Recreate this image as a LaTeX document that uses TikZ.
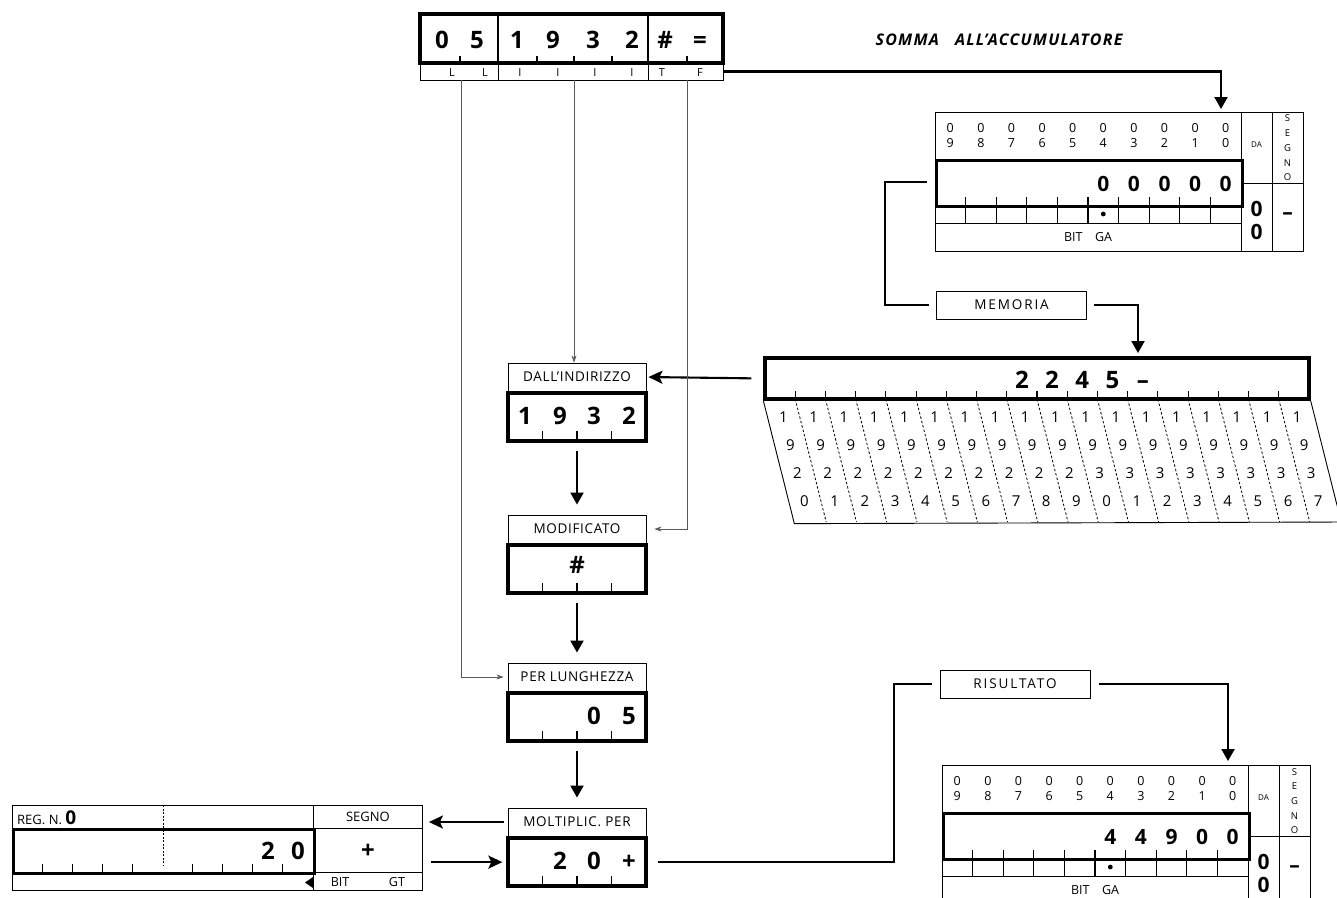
\documentclass[tikz,border=0pt]{standalone}
\usepackage{fontspec}
\setmainfont{Open Sans}
\usetikzlibrary{arrows.meta,positioning}

\begin{document}
\begin{tikzpicture}[
        x=1pt, y=-1pt,
        sottile/.style={line width=0.9pt},
        spessa/.style={line width=3.3pt},
        tacca/.style={line width=1.1pt},
        linea/.style={line width=2.1pt},
        filo/.style={line width=0.7pt, black!65, -{Stealth[length=7pt,width=5pt]}},
        freccia/.style={linea, -{Triangle[length=12pt,width=13pt]}},
        frecciah/.style={linea, -{Stealth[length=14pt,width=13pt,inset=3pt]}},
        etich/.style={draw, sottile, inner sep=0pt, minimum width=138pt, minimum height=28pt,
                      font=\fontsize{13.5}{15}\selectfont\addfontfeature{LetterSpace=5}},
        valore/.style={draw, spessa, inner sep=0pt, minimum width=138pt, minimum height=48pt},
        nome/.style={draw, line width=1pt, inner sep=0pt, minimum width=150pt, minimum height=28pt,
                     font=\fontsize{13.5}{15}\selectfont\addfontfeature{LetterSpace=14}},
        cifra/.style={font=\bfseries\fontsize{24}{26}\selectfont, inner sep=0pt,
                      text height=17pt, text depth=0pt},
        cifraacc/.style={font=\bfseries\fontsize{21}{23}\selectfont, inner sep=0pt,
                         text height=15pt, text depth=0pt},
        piccola/.style={font=\fontsize{12.5}{14}\selectfont, inner sep=0pt,
                        text height=9pt, text depth=0pt},
        memcifra/.style={font=\fontsize{15}{16}\selectfont, inner sep=0pt,
                         text height=10.7pt, text depth=0pt}]

    \useasboundingbox (0,0) rectangle (1337,897);
    \clip (0,0) rectangle (1337,897);

    % --- Istruzione
    \draw[spessa] (420,14) rectangle (723,63);
    \draw[line width=1.5pt] (498,14) -- (498,63) (648,14) -- (648,63);
    \node[draw, sottile, minimum width=303pt, minimum height=17pt, inner sep=0pt] (istr) at (571.5,71.5) {};
    \draw[sottile] (498,63) -- (498,80) (648,63) -- (648,80);
    \foreach \x/\c [count=\i] in {442/0,477/5,517/1,553/9,593/3,632/2,665/\#,700/=}
        \node[cifra] (istr-c\i) at (\x,40) {\c};
    \foreach \x in {460,537,574,612,687}
        \draw[tacca] (\x,63) -- (\x,56);
    \foreach \x/\l [count=\i] in {452/L,485/L,520/I,558/I,595/I,632/I,662/T,700/F}
        \node[piccola, font=\fontsize{11}{13}\selectfont] (istr-l\i) at (\x,72) {\l};
    \coordinate (fL) at (461,80);
    \coordinate (fI) at (574,80);
    \coordinate (fT) at (687,80);

    \node[font=\bfseries\itshape\fontsize{16}{18}\selectfont\addfontfeature{LetterSpace=8}] (somma)
        at (999,40) {SOMMA\quad ALL'ACCUMULATORE};

    % --- Accumulatori (sopra: prima, sotto: risultato)
    \foreach \ox/\oy/\nm/\da/\db/\dc/\dd/\de in {935/112/accA/0/0/0/0/0, 942/765/accB/4/4/9/0/0} {
    \begin{scope}[shift={(\ox,\oy)}]
        \draw[sottile] (0,0) rectangle (368,139);
        \draw[sottile] (306,0) -- (306,139) (337,0) -- (337,139) (306,71) -- (368,71);
        \node[draw, spessa, minimum width=306pt, minimum height=46pt, inner sep=0pt,
              anchor=north west] (\nm) at (0,47) {};
        \draw[sottile] (0,111) -- (306,111);
        \foreach \k in {1,...,9}
            \draw[tacca] (30.6*\k,85) -- (30.6*\k,111);
        \foreach \k [evaluate=\k as \n using int(9-\k)] in {0,...,9} {
            \node[piccola] (\nm-a\k) at (15.3+30.6*\k,16) {0};
            \node[piccola] (\nm-b\k) at (15.3+30.6*\k,31) {\n};
        }
        \foreach \d [count=\c from 5] in {\da,\db,\dc,\dd,\de}
            \node[cifraacc] (\nm-v\c) at (15.3+30.6*\c,72) {\d};
        \fill (168.3,102) circle (2.4pt);
        \node[piccola] (\nm-bit) at (153,125) {BIT\quad GA};
        \node[font=\fontsize{8}{9}\selectfont, inner sep=0pt] (\nm-da) at (321.5,33) {DA};
        \node[font=\fontsize{9.5}{14.7}\selectfont, align=center, inner sep=0pt] (\nm-sg)
            at (352.5,36) {S\\E\\G\\N\\O};
        \node[cifraacc] (\nm-d1) at (321.5,97) {0};
        \node[cifraacc] (\nm-d2) at (321.5,120) {0};
        \node[cifraacc] (\nm-s) at (352.5,100) {--};
        \coordinate (\nm-in) at (286,0);
        \coordinate (\nm-w) at (-8,70);
    \end{scope}
    }

    \draw[freccia, shorten >=3pt] (istr.east) -| (accA-in);

    % --- Memoria
    \node[nome] (memoria) at (1011.5,305) {MEMORIA};
    \draw[linea, shorten >=7pt] (accA-w) -- ++(-42,0) |- (memoria.west);
    \node[draw, spessa, minimum width=544pt, minimum height=41pt, inner sep=0pt] (mem) at (1037,378.5) {};
    \coordinate (mem-in) at (1138,358);
    \draw[freccia, shorten <=7pt, shorten >=5pt] (memoria.east) -| (mem-in);
    \draw[sottile] (mem.south west) -- ++(31,123) -- (1345,522);
    \draw[sottile] (mem.south east) -- ++(31,123);
    \foreach \k in {1,...,17} {
        \draw[tacca] (765+30.22*\k,399) -- ++(0,-8);
        \draw[line width=0.8pt, dash pattern=on 2.5pt off 2pt] (765+30.22*\k,399) -- ++(31,123);
    }
    \foreach \k in {0,...,17} {
        \pgfmathtruncatemacro\unita{mod(\k,10)}
        \pgfmathtruncatemacro\decina{\k<10 ? 2 : 3}
        \foreach \r/\y/\d in {1/417/1, 2/445/9, 3/473/\decina, 4/501/\unita}
            \node[memcifra] (mem-\k-\r) at (765+30.22*\k+14+0.25*\y-99.75,\y) {\d};
    }
    \foreach \k/\d in {8/2,9/2,10/4,11/5,12/--}
        \node[cifra] (mem-v\k) at (765+30.22*\k+15.1,380) {\d};

    % --- Registri centrali
    \foreach \nm/\yc/\testo in {ind/377/{DALL'INDIRIZZO}, mod/529/MODIFICATO,
                                lun/677/{PER LUNGHEZZA}, mol/822/{MOLTIPLIC.\ PER}} {
        \node[etich] (\nm) at (577,\yc) {\testo};
        \node[valore, below=0pt of \nm] (\nm-v) {};
        \foreach \x in {542.5,577,611.5}
            \draw[tacca] (\x,\yc+62) -- ++(0,-8);
    }
    \foreach \x/\c [count=\i] in {525/1,560/9,594/3,629/2}
        \node[cifra] (ind-c\i) at (\x,416) {\c};
    \node[cifra] (mod-c1) at (577,565) {\#};
    \foreach \x/\c [count=\i] in {594/0,629/5}
        \node[cifra] (lun-c\i) at (\x,716) {\c};
    \foreach \x/\c [count=\i] in {560/2,594/0,629/+}
        \node[cifra] (mol-c\i) at (\x,861) {\c};

    \draw[frecciah, shorten <=12pt, shorten >=2pt] (mem.west) -- (ind.east);
    \draw[freccia, shorten <=8pt, shorten >=10pt] (ind-v) -- (mod);
    \draw[freccia, shorten <=8pt, shorten >=10pt] (mod-v) -- (lun);
    \draw[freccia, shorten <=8pt, shorten >=10pt] (lun-v) -- (mol);

    % --- Fili dall'istruzione
    \draw[filo] (fI) -- (fI |- ind.north);
    \draw[filo, shorten >=8pt] (fT) |- (mod.east);
    \draw[filo, shorten >=4pt] (fL) |- (lun.west);

    % --- Registro 0
    \draw[sottile] (12,805) rectangle (313,890);
    \node[draw, sottile, minimum width=109pt, minimum height=23pt, inner sep=0pt, anchor=north west,
          piccola, font=\fontsize{13}{14}\selectfont] (regS) at (313,805) {SEGNO};
    \node[draw, sottile, minimum width=109pt, minimum height=44pt, inner sep=0pt, anchor=north west,
          cifra] (regP) at (313,828) {+};
    \node[draw, sottile, minimum width=109pt, minimum height=18pt, inner sep=0pt, anchor=north west]
        (regB) at (313,872) {};
    \node[draw, spessa, minimum width=301pt, minimum height=44pt, inner sep=0pt, anchor=north west]
        (reg) at (12,828) {};
    \draw[sottile, dash pattern=on 2pt off 1.5pt] (163,805) -- (163,866);
    \foreach \k in {1,2,3,4,6,7,8,9}
        \draw[tacca] (12+30.1*\k,872) -- ++(0,-8);
    \node[anchor=west, font=\fontsize{13}{14}\selectfont, inner sep=0pt] (regN) at (17,818)
        {REG.\ N.\ \textbf{\fontsize{19}{19}\selectfont 0}};
    \node[piccola] (regB-a) at (340,882) {BIT};
    \node[piccola] (regB-b) at (397,882) {GT};
    \fill (313,877) -- (305,882.5) -- (313,888) -- cycle;
    \node[cifra] (reg-c1) at (268,851) {2};
    \node[cifra] (reg-c2) at (298,851) {0};

    \draw[frecciah, shorten <=4pt, shorten >=6pt] (mol.west) -- (regS.east |- mol.west);
    \draw[frecciah, shorten <=8pt, shorten >=4pt] (regP.east |- mol-v.west) -- (mol-v.west);

    % --- Risultato
    \node[nome] (risult) at (1015,684) {RISULTATO};
    \draw[linea, shorten <=10pt, shorten >=8pt] (mol-v.east) -- ++(246,0) |- (risult.west);
    \draw[freccia, shorten <=8pt, shorten >=4pt] (risult.east) -| (accB-in);

    \end{tikzpicture}
\end{document}
